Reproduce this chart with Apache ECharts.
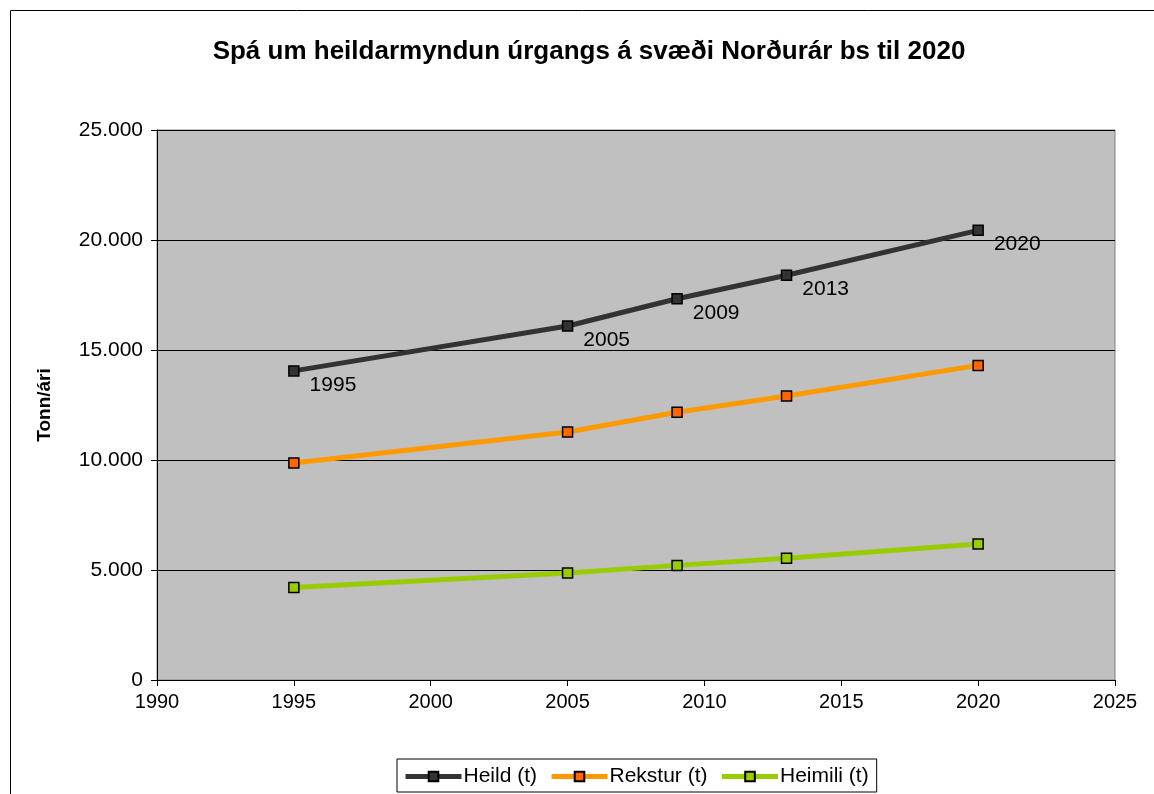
<!DOCTYPE html>
<html>
<head>
<meta charset="utf-8">
<script src="https://cdn.jsdelivr.net/npm/echarts@6/dist/echarts.min.js"></script>
<style>
  html, body { margin: 0; padding: 0; background: #fff; }
  #container { width: 1154px; height: 794px; }
</style>
</head>
<body>
<div id="container"></div>
<script>
// ár og spágildi (tonn/ári)
var years = [1995, 2005, 2009, 2013, 2020];
var heild = [14050, 16090, 17330, 18400, 20440];
var rekstur = [9860, 11270, 12170, 12910, 14300];
var heimili = [4210, 4860, 5210, 5530, 6180];

var dom = document.getElementById("container");
var myChart = echarts.init(dom);
var font = 'Arial, "Liberation Sans", sans-serif';

var pairs = function (vals) {
    return years.map(function (y, i) { return [y, vals[i]]; });
};

var makeSeries = function (name, vals, lineColor, markColor, withLabels) {
    return {
        type: 'line',
        name: name,
        data: pairs(vals),
        symbol: 'rect',
        symbolSize: 10,
        lineStyle: { color: lineColor, width: 5 },
        itemStyle: { color: markColor, borderColor: '#000', borderWidth: 1.5 },
        label: {
            show: withLabels,
            position: 'right',
            offset: [5, 14],
            color: '#000',
            fontFamily: font,
            fontSize: 21,
            formatter: function (p) { return p.value[0]; }
        },
        emphasis: { disabled: true },
        z: 3
    };
};

var option = {
    backgroundColor: '#fff',
    animation: false,
    title: {
        text: 'Spá um heildarmyndun úrgangs á svæði Norðurár bs til 2020',
        left: 584, textAlign: 'center', top: 34,
        textStyle: { fontFamily: font, fontSize: 26, fontWeight: 'bold', color: '#000' }
    },
    grid: {
        left: 157, right: 39, top: 130, bottom: 114,
        show: true, backgroundColor: '#c0c0c0', borderColor: '#808080', borderWidth: 1
    },
    xAxis: {
        type: 'value', min: 1990, max: 2025, interval: 5,
        axisLine: { lineStyle: { color: '#000' } },
        axisTick: { show: true, length: 6, lineStyle: { color: '#000' } },
        axisLabel: {
            color: '#000', fontFamily: font, fontSize: 20, margin: 12,
            formatter: function (v) { return String(v); }
        },
        splitLine: { show: false }
    },
    yAxis: {
        type: 'value', min: 0, max: 25000, interval: 5000,
        name: 'Tonn/ári', nameLocation: 'middle', nameGap: 103, nameRotate: 90,
        nameTextStyle: { color: '#000', fontFamily: font, fontSize: 19, fontWeight: 'bold' },
        axisLine: { show: true, lineStyle: { color: '#000' } },
        axisTick: { show: true, length: 6, lineStyle: { color: '#000' } },
        axisLabel: {
            color: '#000', fontFamily: font, fontSize: 21, margin: 14,
            formatter: function (v) { return v === 0 ? '0' : (v / 1000) + '.000'; }
        },
        splitLine: { show: true, lineStyle: { color: '#000', width: 1 } }
    },
    legend: {
        bottom: 2, left: 397,
        itemWidth: 56, itemHeight: 12, itemGap: 12,
        padding: [7, 8, 5, 6],
        borderColor: '#000', borderWidth: 1,
        lineStyle: { width: 5 },
        textStyle: { color: '#000', fontFamily: font, fontSize: 21, padding: [0, 0, 0, -3] },
        data: ['Heild (t)', 'Rekstur (t)', 'Heimili (t)']
    },
    graphic: [{
        type: 'rect', left: 8, top: 8,
        shape: { width: 1160, height: 800 },
        style: { fill: 'none', stroke: '#000', lineWidth: 1 },
        silent: true
    }],
    series: [
        makeSeries('Heild (t)', heild, '#333333', '#333333', true),
        makeSeries('Rekstur (t)', rekstur, '#ff9900', '#ff6600', false),
        makeSeries('Heimili (t)', heimili, '#99cc00', '#99cc00', false)
    ]
};
myChart.setOption(option, true);
</script>
</body>
</html>
